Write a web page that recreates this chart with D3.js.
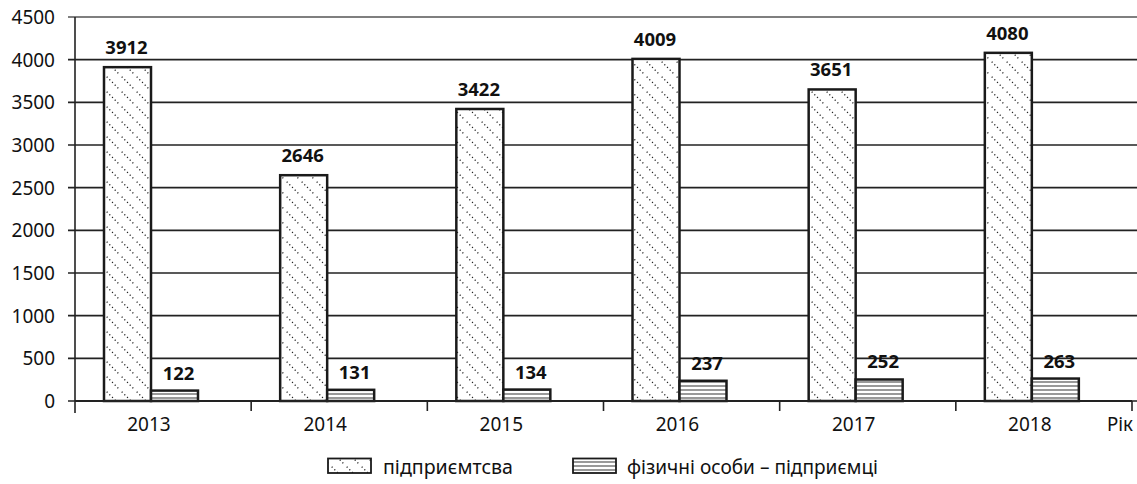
<!DOCTYPE html>
<html><head><meta charset="utf-8">
<script src="https://cdn.jsdelivr.net/npm/d3@7"></script>
<style>
html,body{margin:0;padding:0;background:#fff;}
svg{display:block;font-family:"Noto Sans","Open Sans",sans-serif;}
</style></head>
<body>
<svg id="chart" width="1137" height="484"></svg>
<script>
const years = ["2013","2014","2015","2016","2017","2018"];
const enterprises = [3912, 2646, 3422, 4009, 3651, 4080];
const individuals = [122, 131, 134, 237, 252, 263];
const seriesNames = ["підприємтсва", "фізичні особи – підприємці"];
const yTicks = [0,500,1000,1500,2000,2500,3000,3500,4000,4500];
const axisTitleX = "Рік";

(function(){
const svg = d3.select("#chart");
const defs = svg.append("defs");

const pd = defs.append("pattern").attr("id","diag").attr("patternUnits","userSpaceOnUse")
  .attr("width",15).attr("height",15);
pd.append("rect").attr("width",15).attr("height",15).attr("fill","#fff");
pd.append("line").attr("x1",-1).attr("y1",-1).attr("x2",16).attr("y2",16)
  .attr("stroke","#222").attr("stroke-width",1.3).attr("stroke-dasharray","1.2,2.6");

const ph = defs.append("pattern").attr("id","horiz").attr("patternUnits","userSpaceOnUse")
  .attr("width",8).attr("height",4);
ph.append("rect").attr("width",8).attr("height",4).attr("fill","#fff");
ph.append("line").attr("x1",0).attr("y1",2).attr("x2",8).attr("y2",2)
  .attr("stroke","#555").attr("stroke-width",1.2);

const mLeft = 75, mRight = 1132, mTop = 17, mBottom = 401;
const x0 = d3.scaleBand().domain(years).range([mLeft, mRight]).padding(0);
const x1 = d3.scaleBand().domain(seriesNames).range([29, 123]).padding(0);
const y = d3.scaleLinear().domain([0, 4500]).range([mBottom, mTop]);

// gridlines + y ticks
svg.append("g").selectAll("line").data(yTicks).join("line")
  .attr("x1", 68).attr("x2", 1137)
  .attr("y1", d => y(d)).attr("y2", d => y(d))
  .attr("stroke", d => d === 4500 ? "#555" : "#222").attr("stroke-width", 1.6);

svg.append("g").selectAll("text").data(yTicks).join("text")
  .attr("x", 55).attr("y", d => y(d) + 7)
  .attr("text-anchor","end").attr("font-size", 19).attr("fill","#111")
  .text(d => d);

// y axis line
svg.append("line").attr("x1",mLeft).attr("x2",mLeft).attr("y1",y(4500)).attr("y2",mBottom+12)
  .attr("stroke","#222").attr("stroke-width",1.6);

// x tick marks
const bounds = years.map(d => x0(d)).concat([mRight]);
svg.append("g").selectAll("line").data(bounds.slice(1)).join("line")
  .attr("x1", d => d).attr("x2", d => d).attr("y1", mBottom).attr("y2", mBottom + 10)
  .attr("stroke","#222").attr("stroke-width",1.6);

// bars
const data = years.map((yr, i) => ({yr, vals: [enterprises[i], individuals[i]]}));
const g = svg.append("g");
data.forEach(d => {
  d.vals.forEach((v, k) => {
    const bx = x0(d.yr) + x1(seriesNames[k]);
    g.append("rect")
      .attr("x", bx).attr("y", y(v))
      .attr("width", x1.bandwidth()).attr("height", mBottom - y(v))
      .attr("fill", k === 0 ? "url(#diag)" : "url(#horiz)")
      .attr("stroke", "#1a1a1a").attr("stroke-width", 2.5);
    g.append("text")
      .attr("x", bx + x1.bandwidth()/2 + (k === 0 ? -1 : 4))
      .attr("y", y(v) - (k === 0 ? 13 : 11))
      .attr("text-anchor","middle").attr("font-size", 18.5).attr("font-weight","bold")
      .attr("fill","#111").text(v);
  });
});

// x axis baseline
svg.append("line").attr("x1",mLeft).attr("x2",mRight).attr("y1",mBottom).attr("y2",mBottom)
  .attr("stroke","#222").attr("stroke-width",1.8);

// x labels
svg.append("g").selectAll("text").data(years).join("text")
  .attr("x", d => x0(d) + 74).attr("y", 431)
  .attr("text-anchor","middle").attr("font-size", 19).attr("fill","#111")
  .text(d => d);

svg.append("text").attr("x", 1133).attr("y", 431).attr("text-anchor","end")
  .attr("font-size", 19).attr("fill","#111")
  .attr("textLength", 26).attr("lengthAdjust","spacingAndGlyphs").text(axisTitleX);

// legend
const legBoxX = [328, 573];
const legTextX = [383, 627];
const legW = [130, 251];
seriesNames.forEach((name, k) => {
  svg.append("rect").attr("x", legBoxX[k]).attr("y", 458.5).attr("width", 43).attr("height", 14.5)
    .attr("fill", k === 0 ? "url(#diag)" : "url(#horiz)")
    .attr("stroke","#1a1a1a").attr("stroke-width", 1.8);
  svg.append("text").attr("x", legTextX[k]).attr("y", 474)
    .attr("font-size", 19).attr("fill","#111")
    .attr("textLength", legW[k]).attr("lengthAdjust","spacingAndGlyphs").text(name);
});
})();
</script>
</body></html>
